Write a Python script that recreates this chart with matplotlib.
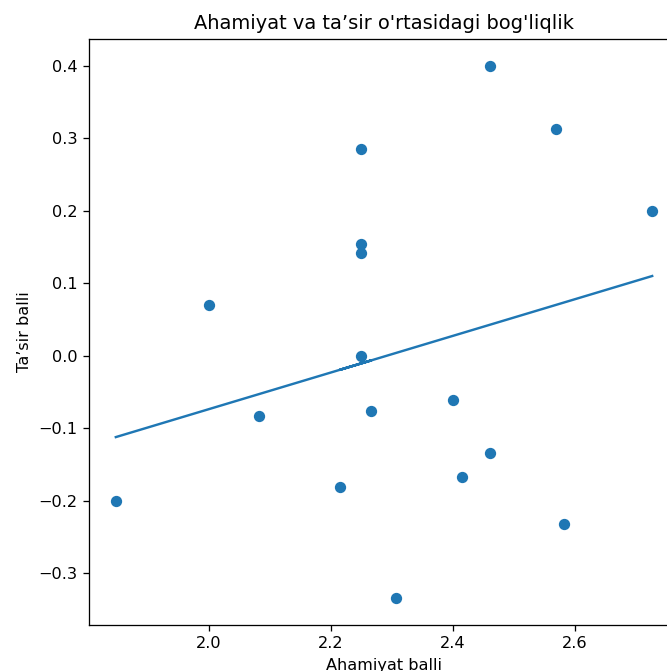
import numpy as np
import matplotlib.pyplot as plt

# Ahamiyat (importance) and ta'sir (impact) scores
ahamiyat = [1.848, 2.000, 2.083, 2.250, 2.250, 2.250, 2.250, 2.267, 2.215,
            2.307, 2.400, 2.415, 2.461, 2.461, 2.569, 2.583, 2.727]
tasir = [-0.200, 0.070, -0.083, 0.285, 0.154, 0.142, 0.000, -0.077, -0.182,
         -0.335, -0.062, -0.168, -0.134, 0.400, 0.312, -0.232, 0.200]

x = np.array(ahamiyat)
y = np.array(tasir)
slope, intercept = np.polyfit(x, y, 1)

# reference looks like a default figure rendered a bit larger than 100 dpi
dpi = 116
fig = plt.figure(figsize=(667 / dpi, 671 / dpi), dpi=dpi)
# the reference is cropped on the right, so the axes run past the edge
ax = fig.add_axes([89 / 667, 46 / 671, 590 / 667, 586 / 671])

ax.scatter(x, y)
ax.plot(x, slope * x + intercept)

ax.set_title("Ahamiyat va ta’sir o'rtasidagi bog'liqlik")
ax.set_xlabel("Ahamiyat balli")
ax.set_ylabel("Ta’sir balli")

fig.savefig("out.png", dpi=dpi)
